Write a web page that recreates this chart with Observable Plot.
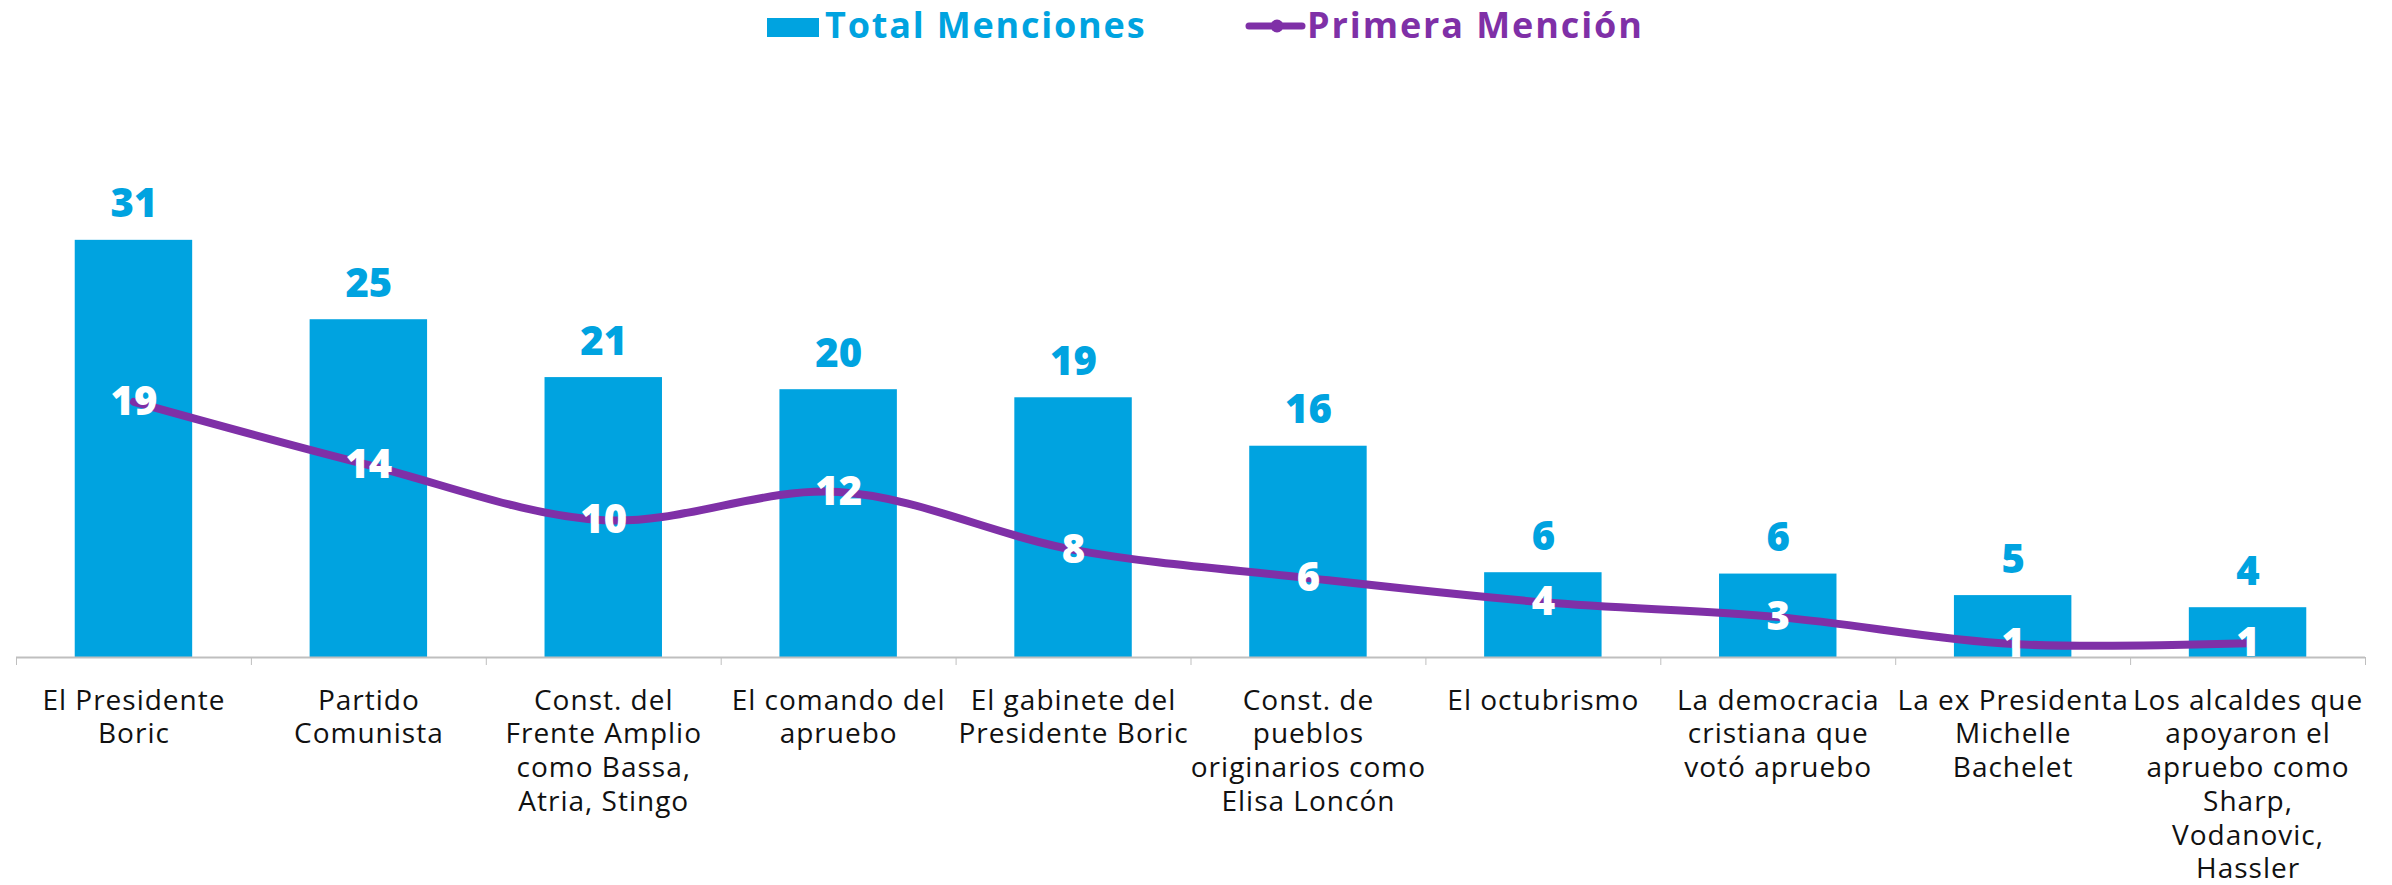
<!DOCTYPE html>
<html>
<head>
<meta charset="utf-8">
<script src="https://cdn.jsdelivr.net/npm/d3@7"></script>
<script src="https://cdn.jsdelivr.net/npm/@observablehq/plot@0.6"></script>
<style>
  body { margin: 0; background: #fff; font-family: "Open Sans", sans-serif; }
  #legend svg, #chart svg { display: block; }
  #chart g[aria-label="x-axis tick label"] text { letter-spacing: 1px; }
</style>
</head>
<body>
<div id="legend"></div>
<div id="chart"></div>
<script>
// ---- Data ----
const categories = [
  "El Presidente Boric",
  "Partido Comunista",
  "Const. del Frente Amplio como Bassa, Atria, Stingo",
  "El comando del apruebo",
  "El gabinete del Presidente Boric",
  "Const. de pueblos originarios como Elisa Loncón",
  "El octubrismo",
  "La democracia cristiana que votó apruebo",
  "La ex Presidenta Michelle Bachelet",
  "Los alcaldes que apoyaron el apruebo como Sharp, Vodanovic, Hassler"
];
const tickLabels = [
  "El Presidente\nBoric",
  "Partido\nComunista",
  "Const. del\nFrente Amplio\ncomo Bassa,\nAtria, Stingo",
  "El comando del\napruebo",
  "El gabinete del\nPresidente Boric",
  "Const. de\npueblos\noriginarios como\nElisa Loncón",
  "El octubrismo",
  "La democracia\ncristiana que\nvotó apruebo",
  "La ex Presidenta\nMichelle\nBachelet",
  "Los alcaldes que\napoyaron el\napruebo como\nSharp,\nVodanovic,\nHassler"
];
const totalMenciones = [31.0, 25.1, 20.8, 19.9, 19.3, 15.7, 6.3, 6.2, 4.6, 3.7];
const primeraMencion = [19.0, 14.3, 10.2, 12.3, 8.0, 5.9, 4.1, 3.0, 1.0, 1.05];
// data labels as printed
const totalLabels = [31, 25, 21, 20, 19, 16, 6, 6, 5, 4];
const primeraLabels = [19, 14, 10, 12, 8, 6, 4, 3, 1, 1];
const seriesNames = ["Total Menciones", "Primera Mención"];

// ---- Styles ----
const BLUE = "#00A3E0";
const PURPLE = "#7F30A7";
const W = 2392, H = 825;
const marginLeft = 16, marginRight = 27;
const step = (W - marginLeft - marginRight) / categories.length;

const rows = categories.map((c, i) => ({
  cat: c,
  total: totalMenciones[i], totalLabel: totalLabels[i],
  primera: primeraMencion[i], primeraLabel: primeraLabels[i]
}));
const labelOf = new Map(categories.map((c, i) => [c, tickLabels[i]]));

// ---- Legend (above the plot) ----
const lg = d3.select("#legend").append("svg").attr("width", W).attr("height", 60);
lg.append("rect").attr("x", 767).attr("y", 18).attr("width", 52).attr("height", 19).attr("fill", BLUE);
lg.append("text").attr("x", 825).attr("y", 38).attr("fill", BLUE)
  .style("font", "700 36px 'Open Sans', sans-serif").style("letter-spacing", "1.8px").text(seriesNames[0]);
lg.append("line").attr("x1", 1249).attr("x2", 1302).attr("y1", 26).attr("y2", 26)
  .attr("stroke", PURPLE).attr("stroke-width", 7).attr("stroke-linecap", "round");
lg.append("circle").attr("cx", 1277).attr("cy", 26).attr("r", 6.5).attr("fill", PURPLE);
lg.append("text").attr("x", 1307).attr("y", 38).attr("fill", PURPLE)
  .style("font", "700 36px 'Open Sans', sans-serif").style("letter-spacing", "1.9px").text(seriesNames[1]);

// ---- Chart ----
const chart = Plot.plot({
  width: W,
  height: H,
  marginLeft, marginRight,
  marginTop: 126,
  marginBottom: 228,
  style: { fontFamily: "'Open Sans', sans-serif", background: "#fff" },
  x: { domain: categories, paddingInner: 0.5, paddingOuter: 0.25, round: false, label: null },
  y: { domain: [0, 35], axis: null },
  marks: [
    Plot.barY(rows, { x: "cat", y: "total", fill: BLUE }),
    Plot.ruleY([0], { stroke: "#bfbfbf", strokeWidth: 2 }),
    Plot.axisX({ tickSize: 8, tickFormat: () => "", stroke: "#bfbfbf", dx: -step / 2, label: null }),
    Plot.axisX([categories[categories.length - 1]], { tickSize: 8, tickFormat: () => "", stroke: "#bfbfbf", dx: step / 2, label: null }),
    Plot.axisX({
      tickSize: 0, tickPadding: 28, label: null,
      tickFormat: d => labelOf.get(d),
      fontSize: 28, lineHeight: 1.207, fill: "#111"
    }),
    Plot.line(rows, { x: "cat", y: "primera", stroke: PURPLE, strokeWidth: 8, curve: "catmull-rom" }),
    Plot.text(rows, { x: "cat", y: "primera", text: d => String(d.primeraLabel), fill: "#fff",
      fontSize: 40, fontWeight: 800, lineAnchor: "middle" }),
    Plot.text(rows, { x: "cat", y: "total", text: d => String(d.totalLabel), fill: BLUE,
      fontSize: 40, fontWeight: 800, lineAnchor: "bottom", dy: -23 })
  ]
});
document.getElementById("chart").appendChild(chart);
</script>
</body>
</html>
